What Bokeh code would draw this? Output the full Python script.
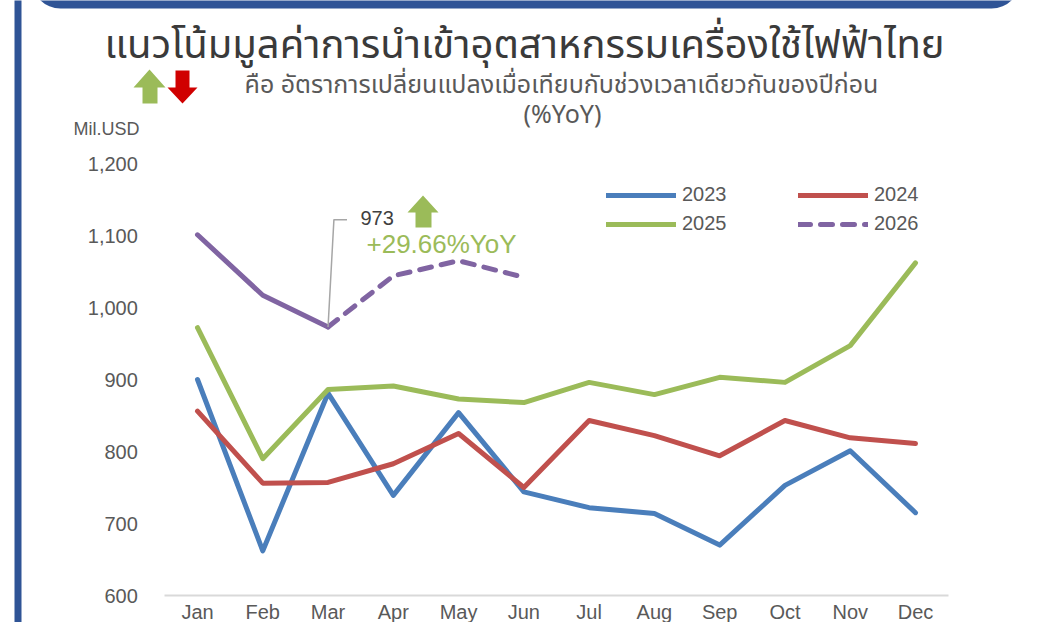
from bokeh.plotting import figure
from bokeh.models import (Range1d, FixedTicker, NumeralTickFormatter, Label, LinearAxis,
                          BoxAnnotation, PolyAnnotation, Legend, LegendItem)
from bokeh.embed import file_html
from bokeh.resources import INLINE

# ---------------- data ----------------
months = ["Jan", "Feb", "Mar", "Apr", "May", "Jun",
          "Jul", "Aug", "Sep", "Oct", "Nov", "Dec"]
y2023 = [900, 662, 881, 739, 854, 744, 722, 714, 670, 753, 801, 715]
y2024 = [856, 756, 757, 783, 825, 750, 843, 822, 794, 843, 819, 811]
y2025 = [972, 790, 886, 891, 873, 868, 896, 879, 903, 896, 947, 1062]
y2026 = [1101, 1017, 973, 1044, 1065, 1042]
y_ticks = [600, 700, 800, 900, 1000, 1100, 1200]

title_text = "แนวโน้มมูลค่าการนำเข้าอุตสาหกรรมเครื่องใช้ไฟฟ้าไทย"
subtitle1 = "คือ อัตราการเปลี่ยนแปลงเมื่อเทียบกับช่วงเวลาเดียวกันของปีก่อน"
subtitle2 = "(%YoY)"
unit_label = "Mil.USD"
callout_month = 2          # Mar
callout_value = "973"
callout_yoy = "+29.66%YoY"

# ---------------- styles / layout ----------------
C23, C24, C25, C26 = "#4A7EBB", "#C0504D", "#9BBB59", "#8064A2"
GRAY = "#595959"
SANS = "Liberation Sans"
THAI = "Noto Sans Thai, Noto Sans Thai UI, Noto Sans, sans-serif"

W, H = 1022, 622
# pixel layout of the plot area inside the canvas
PX_FIRST, PX_LAST = 197.0, 915.0      # x pixel of first / last month
PY_LOW, PY_HIGH = 595.0, 163.0        # y pixel of lowest / highest tick

n = len(months)
xs = list(range(n))
ppx = (PX_LAST - PX_FIRST) / (n - 1)
ppy = (PY_LOW - PY_HIGH) / (y_ticks[-1] - y_ticks[0])
x_start = -PX_FIRST / ppx
x_end = (n - 1) + (W - PX_LAST) / ppx
y_start = y_ticks[0] - (H - PY_LOW) / ppy
y_end = y_ticks[-1] + PY_HIGH / ppy

p = figure(width=W, height=H, output_backend="svg", toolbar_location=None,
           x_axis_type=None, y_axis_type=None,
           x_range=Range1d(x_start, x_end), y_range=Range1d(y_start, y_end),
           min_border=0, min_border_left=0, min_border_right=0,
           min_border_top=0, min_border_bottom=0)
p.outline_line_color = None
p.background_fill_color = "white"
p.border_fill_color = "white"
p.xgrid.visible = False
p.ygrid.visible = False

# axes (fixed inside the frame)
xaxis = LinearAxis(fixed_location=y_ticks[0], bounds=(-0.5, n - 0.5),
                   ticker=FixedTicker(ticks=xs),
                   major_label_overrides={i: m for i, m in enumerate(months)})
xaxis.axis_line_color = "#D9D9D9"
xaxis.axis_line_width = 2
xaxis.major_tick_line_color = None
xaxis.minor_tick_line_color = None
xaxis.major_label_standoff = -1
xaxis.major_label_text_font = SANS
xaxis.major_label_text_font_size = "20px"
xaxis.major_label_text_color = GRAY
p.add_layout(xaxis, "below")

yaxis = LinearAxis(fixed_location=-0.5, bounds=(y_ticks[0], y_ticks[-1]),
                   ticker=FixedTicker(ticks=y_ticks),
                   formatter=NumeralTickFormatter(format="0,0"))
yaxis.axis_line_color = None
yaxis.major_tick_line_color = None
yaxis.minor_tick_line_color = None
yaxis.major_label_standoff = 21
yaxis.major_label_text_font = SANS
yaxis.major_label_text_font_size = "20px"
yaxis.major_label_text_color = GRAY
p.add_layout(yaxis, "left")

# series
lw = 5
r23 = p.line(xs, y2023, line_color=C23, line_width=lw, line_join="round", line_cap="round")
r24 = p.line(xs, y2024, line_color=C24, line_width=lw, line_join="round", line_cap="round")
r25 = p.line(xs, y2025, line_color=C25, line_width=lw, line_join="round", line_cap="round")
k = callout_month
r26a = p.line(xs[:k + 1], y2026[:k + 1], line_color=C26, line_width=lw,
              line_join="round", line_cap="round")
r26b = p.line(xs[k:len(y2026)], y2026[k:], line_color=C26, line_width=lw,
              line_join="round", line_cap="round", line_dash="12 10")

# leader line for the callout, anchored on the Mar 2026 value
v = y2026[k]
p.line([k, k + 0.09, k + 0.29], [v, v + 149, v + 149],
       line_color="#A6A6A6", line_width=1.5)

# ---------------- decorations in canvas pixels ----------------
def sy(py):
    return H - py

def lbl(text, x, y, size, color, font, align="left"):
    p.add_layout(Label(x=x, y=sy(y), x_units="screen", y_units="screen",
                       text=text, text_font_size=size, text_color=color,
                       text_font=font, text_align=align, text_baseline="middle"))

def poly(pts, color):
    p.add_layout(PolyAnnotation(xs=[a for a, b in pts], ys=[sy(b) for a, b in pts],
                                xs_units="screen", ys_units="screen",
                                fill_color=color, fill_alpha=1.0, line_alpha=0))

def box(l, r, t, b, color, radius=0):
    p.add_layout(BoxAnnotation(left=l, right=r, top=sy(t), bottom=sy(b),
                               left_units="screen", right_units="screen",
                               top_units="screen", bottom_units="screen",
                               fill_color=color, fill_alpha=1.0, line_alpha=0,
                               border_radius=radius))

BLUE = "#2F5496"
box(14, 21, -20, H + 20, BLUE)
box(31, 1020, -40, 8, BLUE, radius=(0, 0, 29, 29))

# titles
lbl(title_text, 524, 45, "40px", "#3A3A3A", THAI, align="center")
lbl(subtitle1, 561, 84, "25px", GRAY, THAI, align="center")
lbl(subtitle2, 562, 114, "25px", GRAY, THAI, align="center")
lbl(unit_label, 73, 128, "18px", GRAY, SANS)

# big up/down arrows
poly([(133, 87), (149, 69), (165, 87), (157, 87), (157, 103), (142, 103), (142, 87)], C25)
poly([(175, 70), (189, 70), (189, 87), (197, 87), (182, 103), (167, 87), (175, 87)], "#D00000")
# callout arrow + texts
poly([(407, 212), (422.5, 195), (438, 212), (431, 212), (431, 227), (415, 227), (415, 212)], C25)
lbl(callout_value, 360, 217, "20px", "#404040", SANS)
lbl(callout_yoy, 366, 243, "26px", C25, SANS)

# legends (two columns)
def make_legend(items, x):
    lg = Legend(items=items, location=(x, sy(235)),
                glyph_width=70, glyph_height=20, label_height=20,
                label_standoff=6, spacing=6, padding=0, margin=0,
                label_text_font=SANS, label_text_font_size="20px",
                label_text_color=GRAY, border_line_alpha=0,
                background_fill_alpha=0)
    p.add_layout(lg, "center")

make_legend([LegendItem(label="2023", renderers=[r23]),
             LegendItem(label="2025", renderers=[r25])], 606)
make_legend([LegendItem(label="2024", renderers=[r24]),
             LegendItem(label="2026", renderers=[r26b])], 798)

open("out.html", "w").write(file_html(p, INLINE))
